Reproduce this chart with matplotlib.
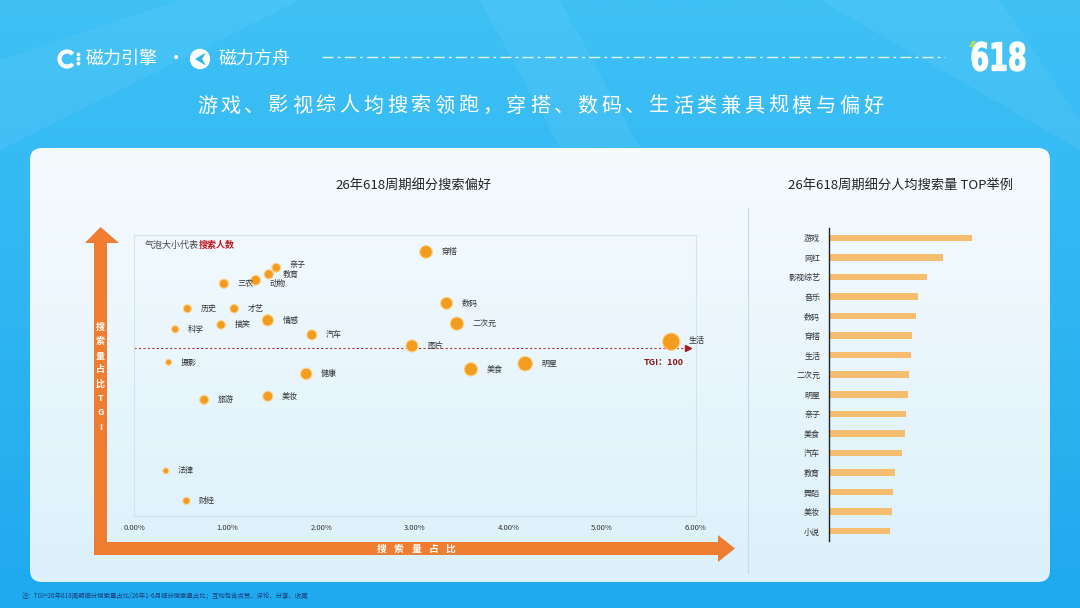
import numpy as np
import matplotlib
matplotlib.use("Agg")
import matplotlib.pyplot as plt
from matplotlib.patches import FancyBboxPatch, Polygon, Circle, Arc, PathPatch
from matplotlib.textpath import TextPath
from matplotlib.font_manager import FontProperties
from matplotlib.transforms import Affine2D
from matplotlib.colors import LinearSegmentedColormap

plt.rcParams['font.family'] = ['Noto Sans CJK SC', 'DejaVu Sans']

# bubble chart: share of search volume (%), TGI, bubble size = searchers
topics = ["穿搭", "亲子", "教育", "动物", "三农", "历史", "才艺", "情感", "搞笑", "科学",
          "汽车", "数码", "二次元", "图片", "摄影", "健康", "美食", "旅游", "美妆", "明星",
          "生活", "法律", "财经"]
share = [3.12, 1.52, 1.44, 1.30, 0.96, 0.57, 1.07, 1.43, 0.93, 0.44,
         1.90, 3.34, 3.45, 2.97, 0.37, 1.84, 3.60, 0.75, 1.43, 4.18,
         5.74, 0.34, 0.56]
tgi = [147.9, 140.0, 136.7, 133.7, 132.0, 119.5, 119.5, 113.7, 111.4, 109.2,
       106.4, 122.2, 112.0, 100.9, 92.7, 86.9, 89.2, 73.9, 75.7, 92.0,
       103.0, 38.4, 23.4]
users = [40, 19, 21, 24, 21, 16, 18, 32, 18, 13,
         25, 36, 44, 36, 9, 32, 44, 20, 25, 53,
         75, 9, 13]

# bar chart: per-capita searches
bar_cats = ["游戏", "网红", "影视综艺", "音乐", "数码", "穿搭", "生活", "二次元",
            "明星", "亲子", "美食", "汽车", "教育", "舞蹈", "美妆", "小说"]
bar_vals = [14.3, 11.4, 9.8, 8.9, 8.75, 8.35, 8.2, 8.05,
            7.9, 7.75, 7.6, 7.3, 6.6, 6.4, 6.3, 6.1]

title = "游戏、影视综人均搜索领跑，穿搭、数码、生活类兼具规模与偏好"
orange = "#ee7d31"
# small vertical nudges (points) for crowded labels
nudge = {"亲子": 2.0, "动物": -2.0, "生活": 1.0}

fig = plt.figure(figsize=(10.8, 6.08), dpi=100)
bg = fig.add_axes([0, 0, 1, 1])

# background
grad = np.linspace(0, 1, 256).reshape(-1, 1)
cmap_bg = LinearSegmentedColormap.from_list("bg", ["#3fc1f6", "#1fa9ee"])
bg.imshow(grad, extent=[0, 1080, 608, 0], cmap=cmap_bg, aspect="auto", zorder=0)
for pts in [[(0, 60), (0, 150), (300, 0), (180, 0)],
            [(820, 0), (1000, 0), (1080, 120), (1080, 150)],
            [(480, 0), (560, 0), (640, 148), (560, 148)]]:
    bg.add_patch(Polygon(pts, closed=True, fc="white", ec="none", alpha=0.05, zorder=0.5))

# panel
panel = FancyBboxPatch((30, 148), 1020, 434, boxstyle="round,pad=0,rounding_size=12",
                       fc="none", ec="none", zorder=1)
bg.add_patch(panel)
cmap_p = LinearSegmentedColormap.from_list("p", ["#f6fbfe", "#dcf1fb"])
im = bg.imshow(grad, extent=[30, 1050, 582, 148], cmap=cmap_p, aspect="auto", zorder=1)
im.set_clip_path(panel)
bg.plot([747.7, 747.7], [208, 573], color="#c8dce8", lw=0.8, zorder=2)

# header
bg.add_patch(Arc((67, 59), 15, 15, theta1=40, theta2=320, lw=3, color="white", zorder=3))
for yy in (54.5, 59, 63.5):
    bg.add_patch(Circle((78.5, yy), 1.2, color="white", zorder=3))
bg.text(86, 59, "磁力引擎", ha="left", va="center", fontsize=13, color="white", zorder=3)
bg.text(176, 59, "·", ha="center", va="center", fontsize=13, color="white", zorder=3)
bg.add_patch(Circle((200, 59), 9.5, color="white", zorder=3))
bg.add_patch(Polygon([(206, 52.5), (195, 59), (206, 65.5), (202, 59)], closed=True,
                     fc="#2cb4f1", ec="none", zorder=4))
bg.text(219, 59, "磁力方舟", ha="left", va="center", fontsize=13, color="white", zorder=3)
bg.plot([322, 945], [57, 57], color="white", lw=1, ls=(0, (8, 3, 2, 3)), alpha=0.85, zorder=3)

fp = FontProperties(family="DejaVu Sans", weight="bold")
tp = TextPath((0, 0), "618", size=10, prop=fp)
bb = tp.get_extents()
tr = Affine2D().translate(-bb.x0, -bb.y0).scale(53 / bb.width, -29 / bb.height).translate(972, 71)
bg.add_patch(PathPatch(tr.transform_path(tp), fc="white", ec="white", lw=1.0, zorder=3))
bg.add_patch(Polygon([(969, 47), (972, 41), (976, 41), (973, 47)], closed=True,
                     fc="#a6e05a", ec="none", zorder=4))

pitch = 23.8
x0 = 540 - pitch * (len(title) - 1) / 2
for i, ch in enumerate(title):
    bg.text(x0 + pitch * i, 106, ch, ha="center", va="center", fontsize=14.5,
            color="white", zorder=3)

# chart titles
bg.text(414, 185, "26年618周期细分搜索偏好", ha="center", va="center", fontsize=9.5,
        color="#222222", zorder=3)
bg.text(901, 185, "26年618周期细分人均搜索量 TOP举例", ha="center", va="center",
        fontsize=9.5, color="#222222", zorder=3)

# orange axis arrows
bg.add_patch(Polygon([(94, 555), (94, 243), (85, 243), (100.5, 227), (119, 243),
                      (107, 243), (107, 555)], closed=True, fc=orange, ec="none", zorder=2))
bg.add_patch(Polygon([(94, 542), (718, 542), (718, 535), (735, 548.5), (718, 562),
                      (718, 555), (94, 555)], closed=True, fc=orange, ec="none", zorder=2))
for i, ch in enumerate("搜索量占比TGI"):
    bg.text(100.5, 327 + 14.3 * i, ch, ha="center", va="center", fontsize=6.5,
            fontweight="bold", color="white", zorder=3)
for i, ch in enumerate("搜索量占比"):
    bg.text(381.5 + 17.2 * i, 549, ch, ha="center", va="center", fontsize=7,
            fontweight="bold", color="white", zorder=3)

t1 = bg.text(145, 245, "气泡大小代表", ha="left", va="center", fontsize=6.5,
             color="#444444", zorder=3)
bg.annotate("搜索人数", xy=(1, 0.5), xycoords=t1, ha="left", va="center", fontsize=6.5,
            fontweight="bold", color="#c0141c", zorder=3)

bg.text(22, 596, "注：TGI=26年618周期细分搜索量占比/26年1-6月细分搜索量占比；互动包含点赞、评论、分享、收藏",
        ha="left", va="center", fontsize=4.6, color="#1a3f7a", zorder=3)

bg.set_xlim(0, 1080)
bg.set_ylim(608, 0)
bg.axis("off")

# bubble chart
ax = fig.add_axes([134 / 1080, 1 - 516 / 608, 562 / 1080, 281 / 608])
ax.set_facecolor("none")
ax.scatter(share, tgi, s=np.array(users) * 2.07, color="#f39c1f", edgecolor="#fcd28c",
           lw=0.8, zorder=3)
for name, x, y, u in zip(topics, share, tgi, users):
    ax.annotate(name, (x, y), xytext=((np.sqrt(u) + 9) * 0.72, nudge.get(name, 0)),
                textcoords="offset points", ha="left", va="center", fontsize=5.8,
                color="#333333", zorder=4)
ax.plot([0, 5.92], [100, 100], ls=(0, (2, 2)), color="#b03a3a", lw=0.8, zorder=2)
ax.plot([5.92], [100], marker=">", ms=5, color="#a31f24", zorder=2)
ax.text(5.66, 92.5, "TGI：100", ha="center", va="center", fontsize=6.5, fontweight="bold",
        color="#8b1a1a")
ax.set_xlim(0, 6.005)
ax.set_ylim(15.85, 156.35)
ax.set_xticks(range(7))
ax.set_xticklabels([f"{v:.2f}%" for v in range(7)])
ax.set_yticks([])
ax.tick_params(axis="x", length=0, pad=6, labelsize=5.5, labelcolor="#333333")
for s in ax.spines.values():
    s.set_color("#d4e3ec")
    s.set_linewidth(0.8)

# bar chart
bx = fig.add_axes([828.5 / 1080, 1 - 541 / 608, 201.5 / 1080, 313 / 608])
bx.set_facecolor("none")
pos = np.arange(len(bar_cats))
bx.barh(pos, bar_vals, height=0.33, color="#f5bd70")
bx.set_ylim(15.5, -0.5)
bx.set_xlim(0, 20.15)
bx.set_yticks(pos)
bx.set_yticklabels(bar_cats)
bx.set_xticks([])
bx.tick_params(axis="y", length=0, pad=6, labelsize=5.8, labelcolor="#333333")
for s in ["top", "right", "bottom"]:
    bx.spines[s].set_visible(False)
bx.spines["left"].set_color("#222222")
bx.spines["left"].set_linewidth(1)

fig.savefig("out.png", dpi=100)
